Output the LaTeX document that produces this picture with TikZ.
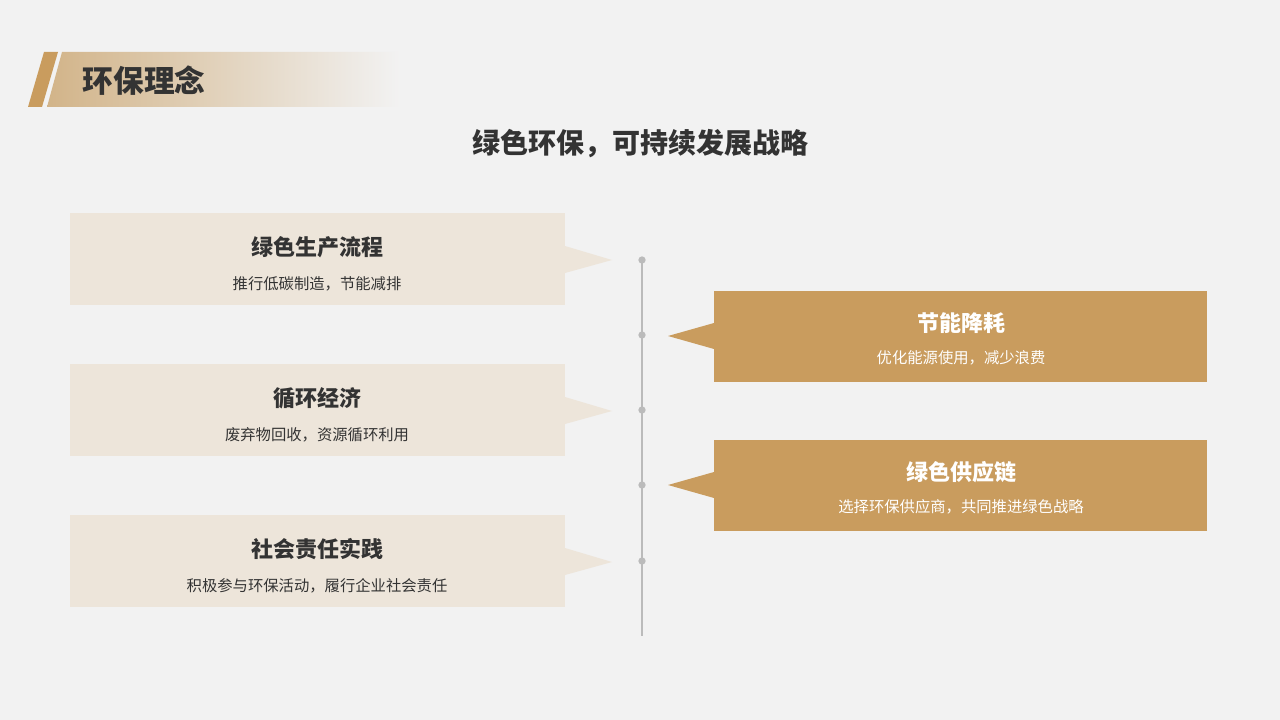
\documentclass[tikz,border=0pt]{standalone}
\usepackage{fontspec}
\setmainfont{Noto Sans CJK SC}
\usetikzlibrary{shapes.geometric}
\definecolor{bg}{HTML}{F2F2F2}
\definecolor{gold}{HTML}{C99C5E}
\definecolor{beige}{HTML}{EDE5DA}
\definecolor{txt}{HTML}{333333}
\definecolor{hdr}{HTML}{D2B489}
\definecolor{line}{HTML}{BBBBBB}
\tikzset{
 lbox/.style={fill=beige,draw=none},
 rbox/.style={fill=gold,draw=none},
 ttl/.style={font=\fontsize{16.5}{20}\selectfont\bfseries},
 sub/.style={font=\fontsize{11.5}{14}\selectfont},
 dotn/.style={circle,fill=line,inner sep=0pt,minimum size=5.5pt}
}
\begin{document}
\begin{tikzpicture}[x=0.75pt,y=-0.75pt]
\fill[bg] (0,0) rectangle (1280,720);
\useasboundingbox (0,0) rectangle (1280,720);
% header
\shade[left color=hdr,right color=bg] (47,107) -- (62,52) -- (400,52) -- (400,107) -- cycle;
\fill[gold] (28,107) -- (44,52) -- (58,52) -- (42,107) -- cycle;
\node[anchor=west,text=txt,font=\fontsize{23}{28}\selectfont\bfseries] (h) at (78,81) {环保理念};
\node[text=txt,font=\fontsize{21}{26}\selectfont\bfseries] (t) at (640,144) {绿色环保，可持续发展战略};
% timeline
\coordinate (top) at (642,258);
\coordinate (bot) at (642,636);
\draw[line,line width=1.5pt] (top) -- (bot);
\foreach \y/\n in {260/d1,335/d2,410/d3,485/d4,561/d5} \node[dotn] (\n) at (642,\y) {};
% left boxes
\foreach \y/\n/\a/\b in {213/L1/绿色生产流程/推行低碳制造，节能减排, 364/L2/循环经济/废弃物回收，资源循环利用, 515/L3/社会责任实践/积极参与环保活动，履行企业社会责任}{
 \fill[beige] (70,\y) rectangle (565,\y+92);
 \fill[beige] (565,\y+33) -- (612,\y+47) -- (565,\y+60) -- cycle;
 \node[ttl,text=txt] (\n t) at (317,\y+34) {\a};
 \node[sub,text=txt] (\n s) at (317,\y+71) {\b};
}
% right boxes
\foreach \y/\n/\a/\b in {291/R1/节能降耗/优化能源使用，减少浪费, 440/R2/绿色供应链/选择环保供应商，共同推进绿色战略}{
 \fill[gold] (714,\y) rectangle (1207,\y+91);
 \fill[gold] (714,\y+32) -- (668,\y+45) -- (714,\y+58) -- cycle;
 \node[ttl,text=white] (\n t) at (961,\y+32) {\a};
 \node[sub,text=white] (\n s) at (961,\y+67) {\b};
}
\end{tikzpicture}
\end{document}
